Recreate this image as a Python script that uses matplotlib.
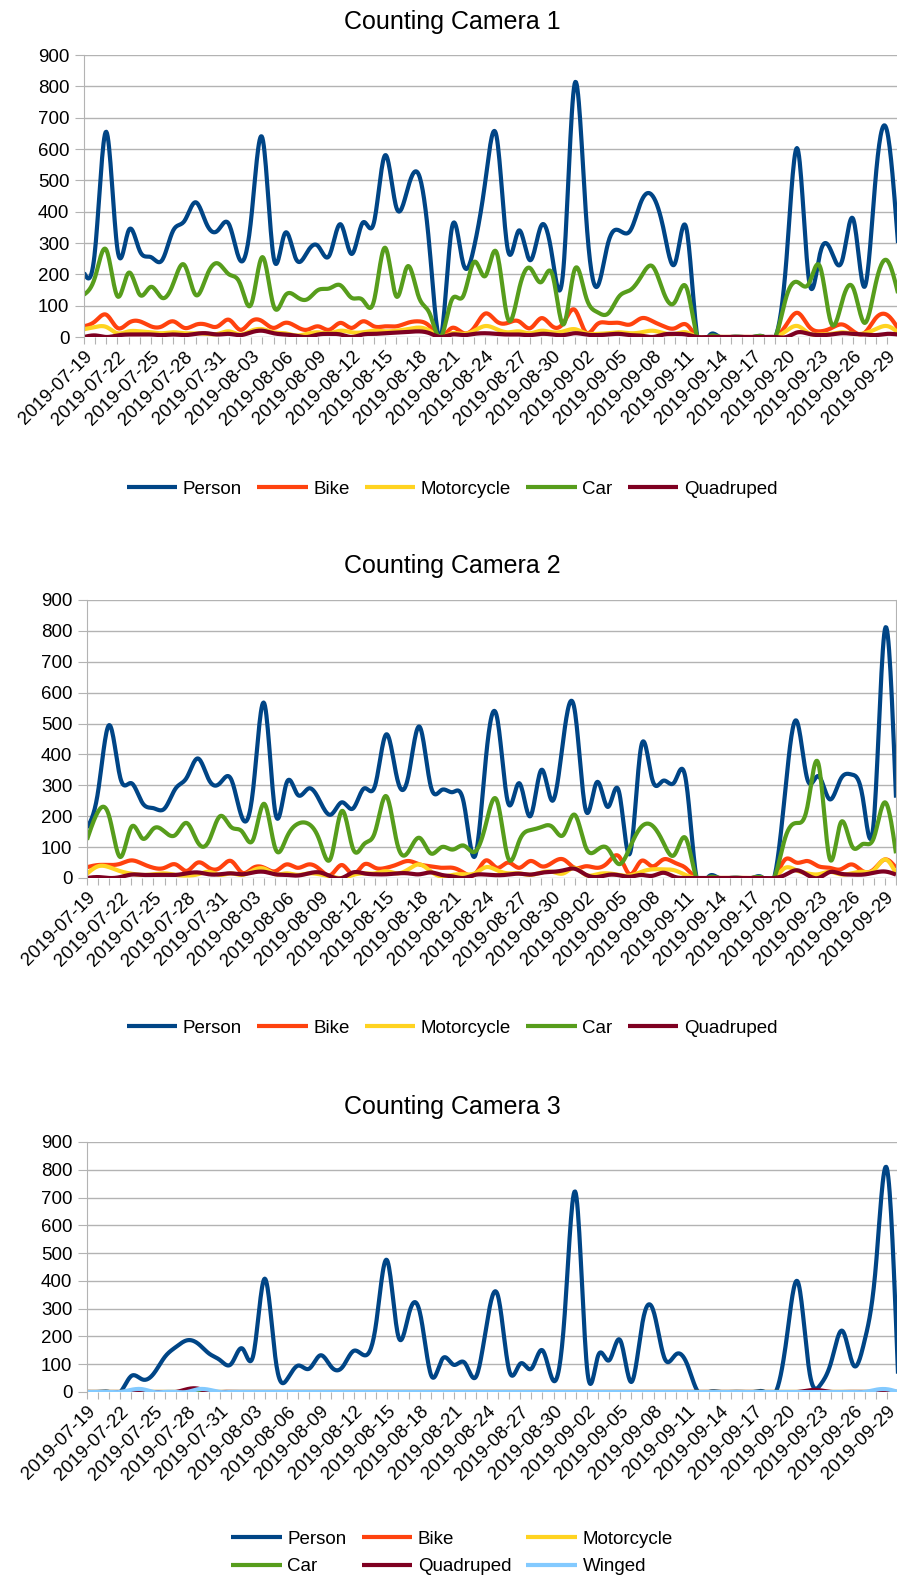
import matplotlib
matplotlib.use('Agg')
import matplotlib.pyplot as plt
import numpy as np
import pandas as pd

plt.rcParams['font.family'] = ['Liberation Sans', 'DejaVu Sans']

# one value per day, 2019-07-19 .. 2019-09-30
dates = pd.date_range('2019-07-19', periods=74).strftime('%Y-%m-%d').tolist()
series_names = ['Person', 'Bike', 'Motorcycle', 'Car', 'Quadruped', 'Winged']
colors = ['#004586', '#ff420e', '#ffd320', '#579d1c', '#7e0021', '#83caff']

# Counting Camera 1
c1_person = [205, 280, 655, 280, 340, 275, 255, 245, 340, 370, 430, 360, 340, 360, 245, 380, 635,
             255, 330, 250, 270, 290, 260, 360, 265, 365, 365, 580, 415, 470, 520, 280, 0,
             350, 235, 290, 500, 640, 280, 340, 245, 355, 255, 220, 808, 400, 160, 300, 340, 340,
             435, 450, 340, 235, 350, 0, 0, 0, 0, 0, 0, 0, 0, 250, 600, 185, 265, 275, 245, 375,
             160, 510, 660, 300]
c1_bike = [34, 50, 71, 29, 45, 50, 34, 34, 50, 29, 39, 39, 34, 55, 23, 50, 50, 29, 45, 34, 23, 34,
           23, 45, 29, 50, 34, 34, 34, 45, 50, 34, 0, 29, 13, 30, 75, 50, 45, 50, 28, 60, 34, 45,
           87, 15, 40, 45, 45, 40, 60, 50, 34, 28, 40, 0, 0, 0, 0, 0, 0, 0, 0, 40, 77, 34, 18, 28,
           40, 18, 13, 60, 71, 28]
c1_moto = [25, 32, 32, 12, 18, 18, 15, 12, 15, 12, 12, 10, 10, 18, 8, 20, 25, 15, 12, 5, 10, 15, 12,
           20, 15, 15, 20, 18, 20, 25, 30, 20, 0, 12, 10, 20, 35, 25, 15, 18, 12, 20, 15, 18, 25,
           12, 10, 12, 15, 12, 15, 20, 12, 10, 15, 0, 0, 0, 0, 0, 0, 0, 0, 20, 35, 12, 8, 10, 15,
           10, 12, 25, 35, 15]
c1_car = [135, 192, 278, 130, 205, 135, 160, 125, 170, 230, 135, 195, 235, 200, 170, 105, 255, 100,
          130, 130, 120, 150, 155, 165, 125, 118, 115, 285, 130, 225, 130, 75, 0,
          120, 130, 240, 195, 270, 60, 150, 220, 175, 200, 40, 215, 130, 80, 75, 130, 150, 195,
          225, 140, 112, 160, 0, 0, 0, 0, 0, 0, 0, 0, 130, 175, 170, 225, 45, 115, 155, 45, 170,
          245, 140]
c1_quad = [0, 5, 0, 5, 8, 8, 8, 6, 8, 6, 10, 12, 8, 10, 6, 15, 20, 12, 8, 4, 0, 8, 10, 8, 0, 8, 10,
           12, 14, 16, 18, 12, 0, 8, 6, 10, 12, 10, 8, 8, 6, 10, 8, 6, 12, 8, 6, 8, 10, 6, 4, 0, 8,
           10, 8, 0, 0, 0, 0, 0, 0, 0, 0, 0, 15, 10, 6, 8, 12, 10, 8, 6, 10, 8]

# Counting Camera 2
c2_person = [163, 280, 495, 325, 307, 243, 226, 225, 290, 325, 387, 318, 307, 320, 195, 290, 565,
             210, 307, 270, 290, 250, 205, 245, 225, 290, 300, 465, 320, 330, 490, 300, 285, 278,
             243, 70, 390, 520, 243, 307, 200, 350, 250, 455, 545, 220, 310, 230, 280, 80, 425,
             320, 315, 310, 325, 0, 0, 0, 0, 0, 0, 0, 0, 280, 510, 320, 330, 255, 320, 335, 260,
             185, 805, 260]
c2_bike = [35, 42, 42, 46, 57, 46, 33, 33, 44, 23, 50, 33, 33, 55, 17, 33, 33, 22, 44, 33, 44, 28,
           10, 42, 12, 44, 33, 33, 44, 55, 44, 38, 33, 33, 17, 12, 57, 33, 50, 33, 55, 38, 50, 60,
           33, 38, 33, 50, 70, 12, 55, 38, 60, 50, 33, 0, 0, 0, 0, 0, 0, 0, 0, 60, 50, 55, 38, 33,
           28, 44, 22, 28, 60, 33]
c2_moto = [14, 38, 35, 22, 14, 10, 12, 15, 10, 8, 12, 20, 10, 15, 10, 25, 30, 12, 15, 10, 15, 12, 5,
           0, 10, 15, 15, 22, 15, 28, 44, 22, 5, 10, 12, 15, 35, 25, 15, 15, 10, 18, 20, 15, 33,
           10, 12, 15, 10, 8, 20, 28, 28, 25, 10, 0, 0, 0, 0, 0, 0, 0, 0, 33, 25, 15, 12, 20, 12,
           15, 20, 25, 60, 15]
c2_car = [124, 215, 200, 68, 165, 128, 160, 150, 140, 178, 115, 120, 200, 165, 150, 125, 240, 95,
          130, 175, 175, 120, 65, 217, 95, 110, 150, 265, 110, 85, 130, 80, 100, 92,
          105, 85, 175, 250, 65, 120, 155, 165, 165, 140, 205, 100, 90, 95, 45, 100, 165, 170,
          115, 75, 130, 0, 0, 0, 0, 0, 0, 0, 0, 130, 178, 230, 370, 65, 178, 105, 110, 130, 245, 80]
c2_quad = [0, 3, 0, 3, 11, 10, 10, 10, 10, 15, 18, 12, 12, 15, 12, 18, 20, 12, 10, 8, 15, 18, 5, 0,
           18, 15, 12, 12, 15, 15, 12, 18, 10, 5, 0, 10, 11, 9, 11, 14, 11, 17, 20, 25, 30, 11, 3,
           10, 9, 4, 10, 7, 17, 4, 0, 0, 0, 0, 0, 0, 0, 0, 0, 10, 25, 10, 0, 19, 14, 11, 11, 17, 21, 11]

# Counting Camera 3
c3_person = [0, 0, 0, 0, 58, 45, 66, 126, 162, 186, 174, 138, 114, 102, 156, 138, 408, 110, 45, 95,
             84, 132, 90, 90, 148, 132, 240, 475, 204, 285, 280, 58, 120, 98,
             105, 54, 250, 345, 78, 102, 84, 150, 40, 280, 715, 90, 130, 114, 186, 36, 250, 290,
             120, 135, 102, 0, 0, 0, 0, 0, 0, 0, 0, 200, 395, 80, 25, 110, 220, 96, 186, 450, 805, 66]
c3_bike = [0] * 74
c3_moto = [0] * 74
c3_car = [0] * 74
c3_quad = [0] * 9 + [10, 12, 0] + [0] * 53 + [6, 6] + [0] * 7
c3_winged = [0] * 4 + [8, 10, 0] + [0] * 3 + [10, 8] + [0] * 59 + [8, 10, 0]


def spline(values, steps=16):
    # natural cubic spline through the daily values, like the "cubic spline" line type
    y = np.asarray(values, float)
    m = len(y)
    A = np.zeros((m, m))
    b = np.zeros(m)
    A[0, 0] = A[-1, -1] = 1
    for i in range(1, m - 1):
        A[i, i - 1], A[i, i], A[i, i + 1] = 1, 4, 1
        b[i] = 6 * (y[i - 1] - 2 * y[i] + y[i + 1])
    M = np.linalg.solve(A, b)
    xs = np.linspace(0, m - 1, (m - 1) * steps + 1)
    k = np.minimum(xs.astype(int), m - 2)
    t = xs - k
    ys = ((1 - t) * y[k] + t * y[k + 1]
          + ((1 - t) ** 3 - (1 - t)) * M[k] / 6 + (t ** 3 - t) * M[k + 1] / 6)
    return xs, ys


W, H = 897, 1580
fig = plt.figure(figsize=(W / 100, H / 100), dpi=100)


def draw_chart(box, title, title_y, data, legend_y, ncol):
    left, top, right, bottom = box
    ax = fig.add_axes([left / W, 1 - bottom / H, (right - left) / W, (bottom - top) / H])
    handles = []
    for name, vals, col in data:
        xs, ys = spline(vals)
        h, = ax.plot(xs, ys, color=col, lw=3.0, solid_capstyle='butt', label=name)
        handles.append(h)
    ax.set_xlim(0, 73)
    ax.set_ylim(0, 900)
    ax.set_yticks(range(0, 901, 100))
    ax.set_xticks(range(0, 74, 3))
    ax.set_xticks(range(74), minor=True)
    ax.set_xticklabels(dates[::3], rotation=45, ha='right', va='top', rotation_mode='anchor',
                       fontsize=13.5)
    ax.tick_params(axis='y', labelsize=13.5, length=6.5, width=0.8, color='#b3b3b3', pad=4)
    ax.tick_params(axis='x', which='both', length=5, width=0.8, color='#b3b3b3', pad=3)
    ax.grid(axis='y', color='#b3b3b3', lw=1)
    ax.set_axisbelow(True)
    for s in ['top', 'bottom']:
        ax.spines[s].set_visible(False)
    for s in ['left', 'right']:
        ax.spines[s].set_color('#b3b3b3')
    fig.text(452 / W, 1 - title_y / H, title, ha='center', va='center', fontsize=18)
    if ncol == 3:
        # row by row, like the original legend
        order = [0, 3, 1, 4, 2, 5]
        handles = [handles[i] for i in order]
    fig.legend(handles=handles, loc='center', bbox_to_anchor=(452 / W, 1 - legend_y / H),
               ncol=ncol, frameon=False, fontsize=13.5, handlelength=2.7, handletextpad=0.3,
               columnspacing=0.8, labelspacing=0.55)
    return ax


draw_chart((84, 55, 898, 337), 'Counting Camera 1', 22,
           list(zip(series_names[:5], [c1_person, c1_bike, c1_moto, c1_car, c1_quad], colors[:5])),
           489, 5)
draw_chart((87, 600, 896, 878), 'Counting Camera 2', 566,
           list(zip(series_names[:5], [c2_person, c2_bike, c2_moto, c2_car, c2_quad], colors[:5])),
           1028, 5)
draw_chart((87, 1142, 898, 1392), 'Counting Camera 3', 1107,
           list(zip(series_names, [c3_person, c3_bike, c3_moto, c3_car, c3_quad, c3_winged], colors)),
           1553, 3)

fig.savefig('out.png', dpi=100)
